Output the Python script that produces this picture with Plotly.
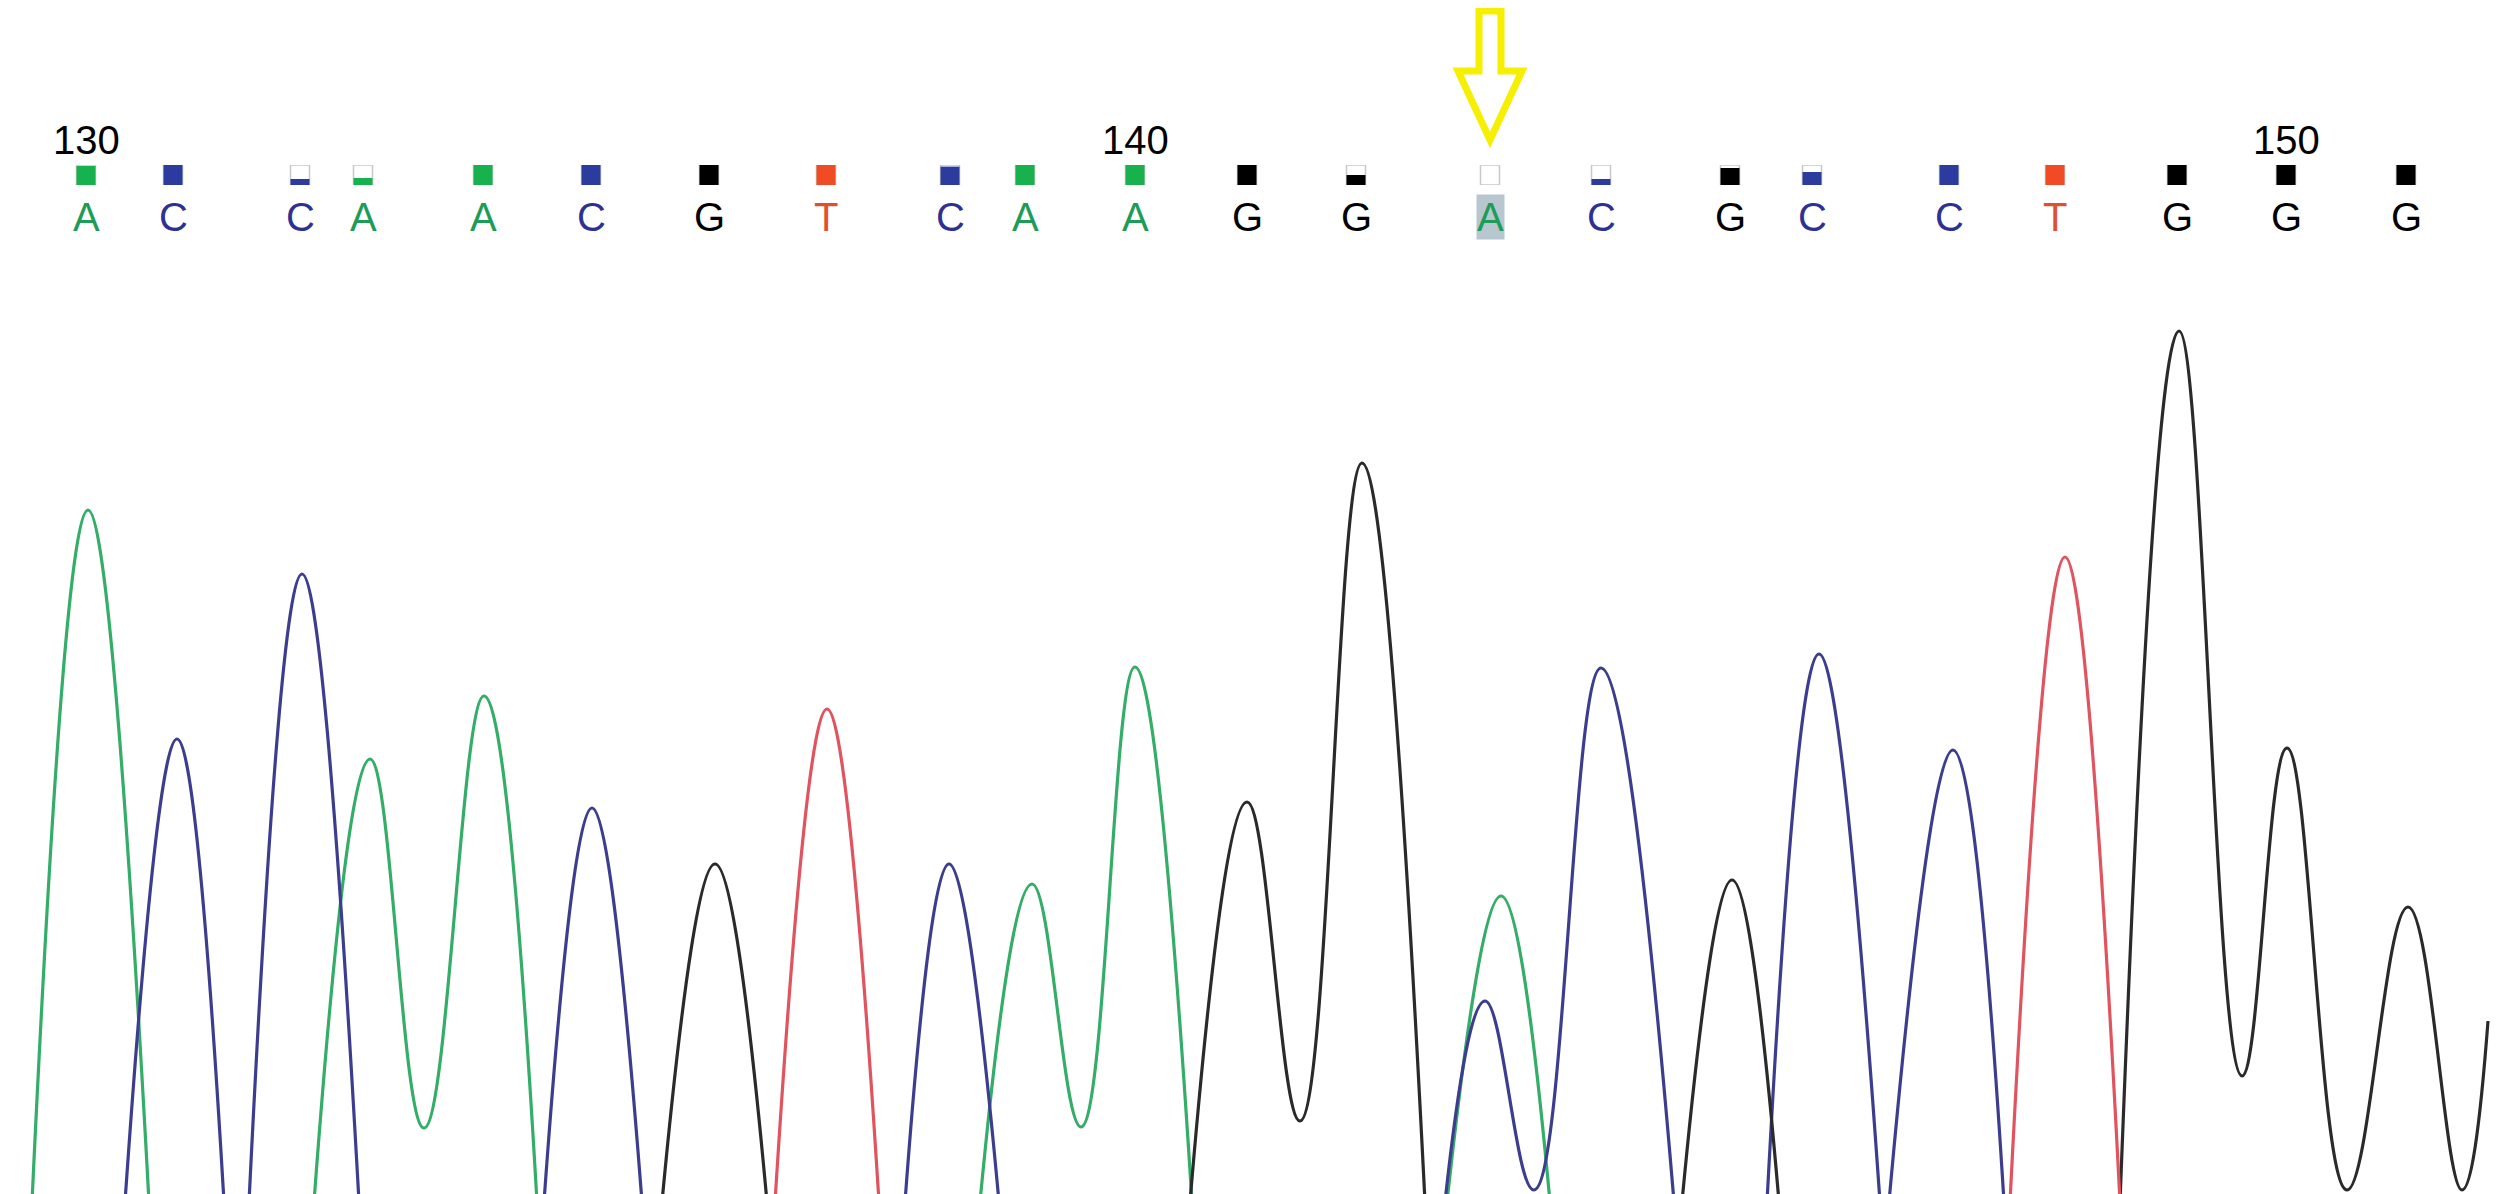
import plotly.graph_objects as go

W, H = 2501, 1194

# ---- base calls (top strip) ----
base_calls = list("ACCAACGTCAAGGACGCCTGGG")
call_pos = [78, 165, 292, 355, 475, 583, 701, 818, 942, 1017, 1127,
            1239, 1348, 1482, 1593, 1722, 1804, 1941, 2047, 2169, 2278, 2398]
call_quality = [0.95, 1, 0.3, 0.35, 1, 1, 1, 1, 0.92, 1, 1,
                1, 0.5, 0, 0.3, 0.85, 0.65, 1, 1, 1, 1, 1]
number_idx = [0, 10, 20]
number_text = ["130", "140", "150"]
highlight_idx = 13

# ---- chromatogram channels (scan position, signal); None = trace leaves the frame ----
a_scan = [24, 80, 141, None, 306, 362, 416, 476, 529, None,
          972, 1024, 1073, 1127, 1184, None, 1439, 1493, 1542]
a_sig = [0, 692, 0, None, 0, 443, 74, 506, 0, None,
         0, 318, 75, 535, 0, None, 0, 306, 0]

c_scan = [117, 169, 216, None, 241, 294, 351, None, 536, 584, 634, None,
          897, 941, 991, None, 1437, 1477, 1526, 1593, 1666, None,
          1759, 1811, 1872, None, 1881, 1945, 1996]
c_sig = [0, 463, 0, None, 0, 628, 0, None, 0, 394, 0, None,
         0, 338, 0, None, 0, 201, 12, 534, 0, None,
         0, 548, 0, None, 0, 452, 0]

g_scan = [654, 707, 759, None, 1182, 1239, 1292, 1354, 1417, None,
          1674, 1724, 1771, None, 2112, 2171, 2234, 2279, 2339, 2400, 2454, 2480]
g_sig = [0, 338, 0, None, 0, 400, 81, 739, 0, None,
         0, 322, 0, None, 0, 871, 126, 454, 12, 295, 12, 181]

t_scan = [767, 819, 871, None, 2002, 2057, 2112]
t_sig = [0, 493, 0, None, 0, 645, 0]

trace_colors = {"A": "#33ad68", "C": "#3d3d8e", "G": "#2a2a2a", "T": "#e0545f"}
letter_colors = {"A": "#1d9c58", "C": "#2e3192", "G": "#000000", "T": "#e1502e"}
box_colors = {"A": "#17b14d", "C": "#2c3b9e", "G": "#000000", "T": "#f04b25"}

FONT = "Liberation Sans, Arial, sans-serif"

fig = go.Figure()

for base, xs, ys in [("A", a_scan, a_sig), ("C", c_scan, c_sig),
                     ("G", g_scan, g_sig), ("T", t_scan, t_sig)]:
    fig.add_trace(go.Scatter(
        x=xs, y=ys, mode="lines", connectgaps=False,
        line=dict(color=trace_colors[base], width=3.2, shape="spline", smoothing=1.2),
        hoverinfo="skip", showlegend=False))

# quality boxes: outline then fill
fig.add_trace(go.Bar(
    x=call_pos, y=[1] * len(call_pos), width=19, yaxis="y2",
    marker=dict(color="white", line=dict(color="#c8c8c8", width=1.5)),
    hoverinfo="skip", showlegend=False))
fig.add_trace(go.Bar(
    x=call_pos, y=call_quality, width=19, yaxis="y2",
    marker=dict(color=[box_colors[b] for b in base_calls], line=dict(width=0)),
    hoverinfo="skip", showlegend=False))

annotations = []
for i, (b, xp) in enumerate(zip(base_calls, call_pos)):
    ann = dict(x=xp, y=1 - 209 / H, xref="x", yref="paper", text=b,
               showarrow=False, xanchor="center", yanchor="middle",
               font=dict(family=FONT, size=40, color=letter_colors[b]))
    if i == highlight_idx:
        ann.update(bgcolor="#b8c6cf", borderpad=0)
    annotations.append(ann)
for idx, txt in zip(number_idx, number_text):
    annotations.append(dict(x=call_pos[idx], y=1 - 132 / H, xref="x", yref="paper",
                            text=txt, showarrow=False, xanchor="center", yanchor="middle",
                            font=dict(family=FONT, size=40, color="#000000")))

# hollow yellow arrow pointing at the highlighted call
cx = call_pos[highlight_idx]
top, head, tip = 1 - 3 / H, 1 - 63 / H, 1 - 132 / H
path = (f"M {cx-11},{top} L {cx-11},{head} L {cx-32},{head} L {cx},{tip} "
        f"L {cx+32},{head} L {cx+11},{head} L {cx+11},{top} Z")
shapes = [dict(type="path", path=path, xref="x", yref="paper",
               line=dict(color="#f7ef00", width=7), fillcolor="rgba(0,0,0,0)")]

fig.update_layout(
    width=W, height=H, margin=dict(l=0, r=0, t=0, b=0),
    paper_bgcolor="white", plot_bgcolor="white",
    barmode="overlay", showlegend=False,
    xaxis=dict(range=[0, W], domain=[0, 1], visible=False, fixedrange=True),
    yaxis=dict(range=[0, 0.8 * H], domain=[0, 0.8], visible=False, fixedrange=True),
    yaxis2=dict(range=[0, 1], domain=[1 - 177 / H, 1 - 157 / H], anchor="x",
                visible=False, fixedrange=True),
    annotations=annotations, shapes=shapes,
)

fig.write_html("out.html", config={"displayModeBar": False})
